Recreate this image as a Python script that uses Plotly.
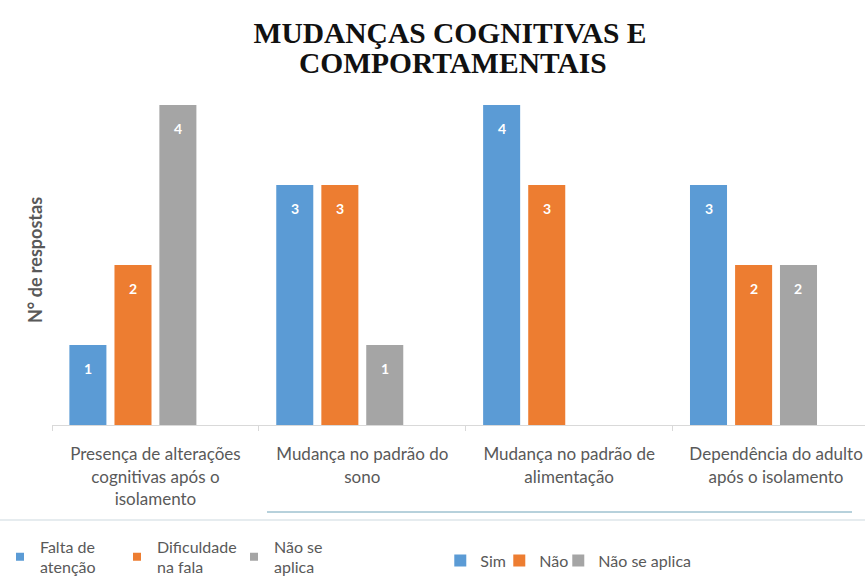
import plotly.graph_objects as go

categories = [
    "Presença de alterações<br>cognitivas após o<br>isolamento",
    "Mudança no padrão do<br>sono",
    "Mudança no padrão de<br>alimentação",
    "Dependência do adulto<br>após o isolamento",
]
sim = [1, 3, 4, 3]
nao = [2, 3, 3, 2]
nao_se_aplica = [4, 1, None, 2]

series_names = ["Sim", "Não", "Não se aplica"]
left_legend_names = ["Falta de<br>atenção", "Dificuldade<br>na fala", "Não se<br>aplica"]
colors = ["#5B9BD5", "#ED7D31", "#A5A5A5"]

FONT = "Lato"
GRAY = "#595959"

fig = go.Figure()

bar_width = 0.179
offsets = [-0.416, -0.198, 0.019]
annotations = []
for name, vals, col, off in zip(series_names, [sim, nao, nao_se_aplica], colors, offsets):
    fig.add_trace(go.Bar(
        x=categories, y=vals, name=name,
        marker=dict(color=col, line=dict(width=0)),
        width=bar_width, offset=off,
        legend="legend2",
    ))
    for j, v in enumerate(vals):
        if v is None:
            continue
        annotations.append(dict(
            x=j + off + bar_width / 2, y=v, xref="x", yref="y",
            text=f"<b>{v}</b>", showarrow=False, yshift=-23,
            xanchor="center", yanchor="middle",
            font=dict(family=FONT, size=14, color="white"),
        ))

# spacer entries so the last legend label is not clipped
for _ in range(2):
    fig.add_trace(go.Scatter(
        x=[None], y=[None], mode="markers", name=" ",
        marker=dict(symbol="square", size=8, color="rgba(0,0,0,0)"),
        legend="legend2", hoverinfo="skip",
    ))

# legend of the companion chart (left side)
for name, col in zip(left_legend_names, colors):
    fig.add_trace(go.Scatter(
        x=[None], y=[None], mode="markers", name=name,
        marker=dict(symbol="square", size=8, color=col),
        legend="legend",
    ))

annotations.append(dict(
    text="<b>COMPORTAMENTAIS</b>", showarrow=False,
    xref="paper", yref="paper",
    x=(453 - 52) / 813, y=(425 - 63) / 330, xanchor="center", yanchor="middle",
    font=dict(family="Liberation Serif", size=29.5, color="#111111"),
))

fig.update_layout(
    width=865, height=578,
    margin=dict(l=52, r=0, t=95, b=153),
    paper_bgcolor="white", plot_bgcolor="white",
    barmode="overlay",
    title=dict(
        text="<b>MUDANÇAS COGNITIVAS E</b>",
        x=450 / 865, xanchor="center", xref="container",
        y=1 - 33 / 578, yanchor="middle", yref="container",
        font=dict(family="Liberation Serif", size=29.5, color="#111111"),
    ),
    annotations=annotations,
    font=dict(family=FONT, size=17, color=GRAY),
    xaxis=dict(
        range=[-0.5, 3.43], tickangle=0, automargin=False,
        showline=True, linecolor="#D9D9D9", linewidth=1,
        ticks="outside", tickson="boundaries", ticklen=5, tickcolor="#D9D9D9",
        tickfont=dict(family=FONT, size=17, color=GRAY), ticklabelstandoff=14,
        showgrid=False, zeroline=False,
    ),
    yaxis=dict(
        range=[0, 4.125], showticklabels=False, showgrid=False, zeroline=False,
        ticks="", automargin=True,
        title=dict(text="<b>N° de respostas</b>", standoff=3,
                   font=dict(family=FONT, size=18, color=GRAY)),
    ),
    legend=dict(
        orientation="h", xref="container", yref="container",
        x=-0.019, y=0.084, xanchor="left", yanchor="top",
        font=dict(family=FONT, size=16, color=GRAY),
        itemwidth=30, entrywidth=72, bgcolor="rgba(0,0,0,0)",
    ),
    legend2=dict(
        orientation="h", xref="container", yref="container",
        x=0.509, y=0.030, xanchor="left", yanchor="middle",
        font=dict(family=FONT, size=16, color=GRAY),
        itemwidth=30, entrywidth=14, bgcolor="rgba(0,0,0,0)",
    ),
    shapes=[
        dict(type="line", xref="paper", yref="paper", x0=(267 - 52) / 813, x1=(852 - 52) / 813,
             y0=(425 - 512) / 330, y1=(425 - 512) / 330, line=dict(color="#6FA3B8", width=1)),
        dict(type="line", xref="paper", yref="paper", x0=-52 / 813, x1=1,
             y0=(425 - 520) / 330, y1=(425 - 520) / 330, line=dict(color="#E6ECEF", width=2)),
    ],
)

fig.write_html("out.html", config={"displayModeBar": False},
               post_script="document.body.style.margin='0';")
